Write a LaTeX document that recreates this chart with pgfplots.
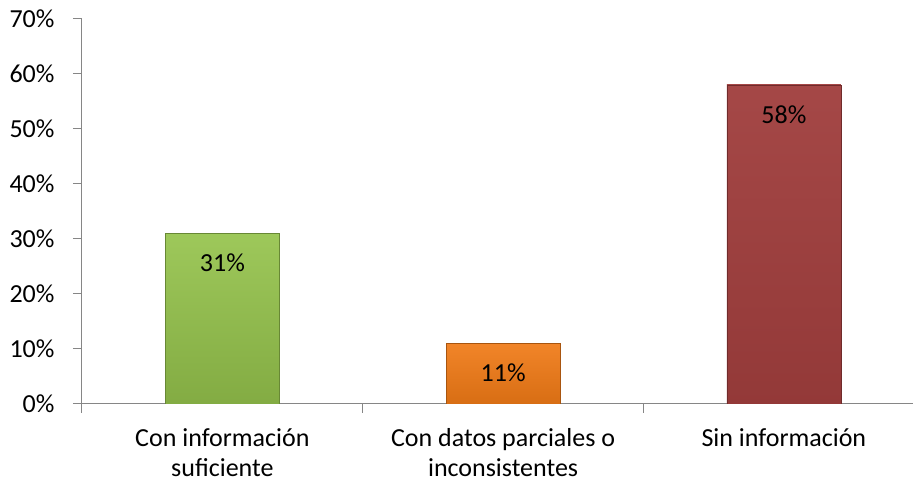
\documentclass[border=0pt]{standalone}
\usepackage{fontspec}
\setmainfont{Carlito}
\usepackage{pgfplots}
\pgfplotsset{compat=1.18}
\usetikzlibrary{calc}

\definecolor{barGreen}{RGB}{149,195,76}
\definecolor{barOrange}{RGB}{240,122,22}
\definecolor{barRed}{RGB}{160,62,61}
\definecolor{axisGray}{RGB}{134,134,134}

\begin{document}
\begin{tikzpicture}
\begin{axis}[
    name=ax,
    scale only axis,
    width=831pt, height=385pt,
    ymin=0, ymax=70,
    xmin=-0.5, xmax=2.46,
    ytick={0,10,...,70},
    yticklabel={\pgfmathprintnumber{\tick}\%},
    xtick={-0.5,0.5,1.5},
    xticklabels={},
    extra x ticks={0,1,2},
    extra x tick labels={{Con información\\suficiente},{Con datos parciales o\\inconsistentes},{Sin información}},
    extra x tick style={major tick length=0pt},
    axis x line*=bottom, axis y line*=left,
    axis line style={axisGray, line width=1pt, -},
    every tick/.style={draw=axisGray, line width=1pt},
    major tick length=9pt, tick align=outside,
    /pgf/number format/assume math mode=true,
    tick label style={font=\fontsize{26}{30}\selectfont, black},
    yticklabel style={xshift=-15pt},
    xticklabel style={align=center, yshift=-21pt},
    ybar, bar width=114pt,
    nodes near coords={\pgfmathprintnumber{\pgfplotspointmeta}\%},
    every node near coord/.append style={anchor=north, yshift=-17pt, font=\fontsize{26}{28}\selectfont, black},
]
\addplot[bar shift=0pt, top color=barGreen!92!white, bottom color=barGreen!88!black, draw=barGreen!70!black] coordinates {(0,31)};
\addplot[bar shift=0pt, top color=barOrange!92!white, bottom color=barOrange!90!black, draw=barOrange!70!black] coordinates {(1,11)};
\addplot[bar shift=0pt, top color=barRed!95!white, bottom color=barRed!92!black, draw=barRed!70!black] coordinates {(2,58)};
\end{axis}
\path ($(ax.south west)+(-82pt,-80pt)$) rectangle ($(ax.north east)+(2pt,19pt)$);
\end{tikzpicture}
\end{document}
